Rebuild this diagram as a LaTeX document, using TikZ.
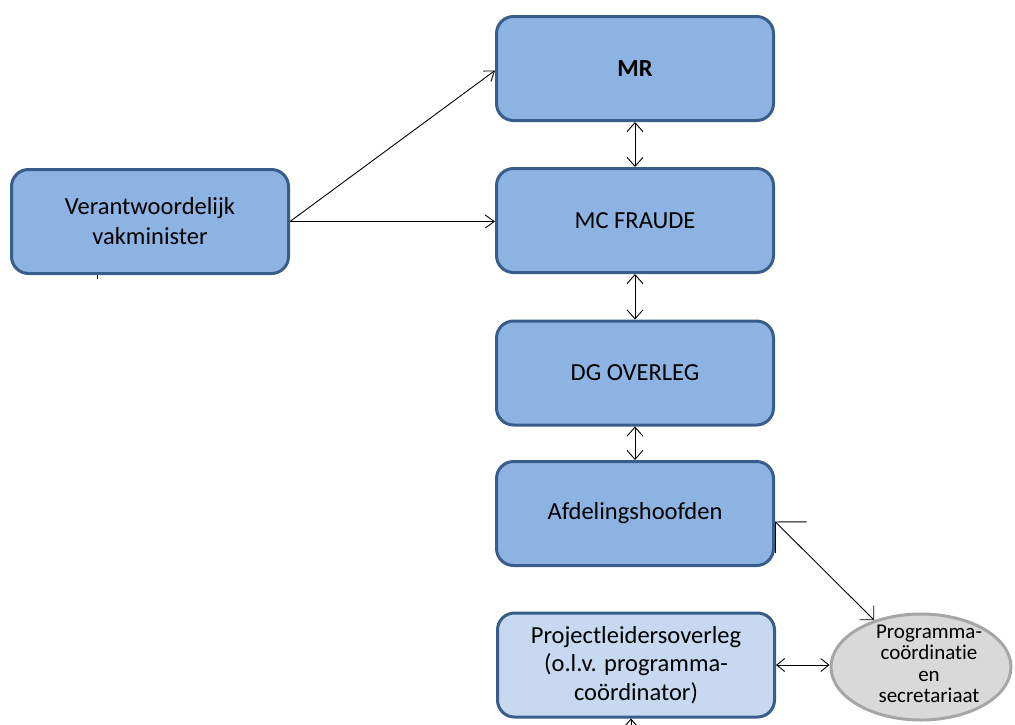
\documentclass[tikz,border=0pt]{standalone}
\usepackage{fontspec}
\setmainfont{Carlito}[Ligatures=NoCommon]
\usetikzlibrary{arrows.meta,shapes.geometric}

\definecolor{boxfill}{RGB}{141,179,226}
\definecolor{boxline}{RGB}{56,93,138}
\definecolor{lightfill}{RGB}{198,217,241}
\definecolor{ovalfill}{RGB}{217,217,217}
\definecolor{ovalline}{RGB}{166,166,166}

\begin{document}
\begin{tikzpicture}[x=1pt,y=-1pt,
  unit/.style={draw=boxline, line width=3pt, fill=boxfill,
    rounded corners=17pt, minimum width=277pt, minimum height=104pt,
    align=center, inner sep=0pt, font=\fontsize{24.5}{30}\selectfont},
  subunit/.style={unit, fill=lightfill, font=\fontsize{24.5}{28.5}\selectfont},
  oval/.style={ellipse, draw=ovalline, line width=3pt, fill=ovalfill,
    minimum width=180pt, minimum height=106pt, inner sep=0pt},
  ovaltext/.style={align=center, inner sep=0pt,
    font=\fontsize{21}{21.5}\selectfont},
  link/.style={draw=black, line width=0.9pt},
  vtip/.tip={Straight Barb[length=9pt,width=16pt,line width=0.9pt]},
  stip/.tip={Straight Barb[length=9pt,width=13pt,line width=0.9pt]},
  htip/.tip={Straight Barb[length=8pt,width=13pt,line width=0.9pt]},
  bigtip/.tip={Straight Barb[length=22pt,width=44pt,line width=0.9pt]},
  smalltip/.tip={Straight Barb[length=10pt,width=20pt,line width=0.9pt]},
]
\useasboundingbox (0,0) rectangle (1015,724);

% organisation chart boxes
\node[unit] (mr)  at (635,68.5)  {\bfseries MR};
\node[unit] (mc)  at (635,220.5) {MC FRAUDE};
\node[unit] (dg)  at (635,373)   {DG OVERLEG};
\node[unit] (afd) at (635,513.5) {Afdelingshoofden};
\node[unit] (vak) at (150,221.5) {Verantwoordelijk\\vakminister};
\node[subunit] (proj) at (636,665) {Projectleidersoverleg\\(o.l.v. programma-\\coördinator)};

% coordination and secretariat
\node[oval] (oval) at (921,667) {};
\node[ovaltext] (ovallabel) at (929,664) {Programma-\\coördinatie\\en\\secretariaat};

% connectors
\draw[link, -stip] (vak.east) -- ([yshift=-2pt]mr.west);
\draw[link, -stip] (vak.east) -- (vak.east -| mc.west);
\draw[link, vtip-vtip] (mr.south) -- (mc.north);
\draw[link, vtip-vtip] (mc.south) -- (dg.north);
\draw[link, vtip-vtip] (dg.south) -- (afd.north);
\draw[link, bigtip-smalltip] ([yshift=-8pt]afd.east) -- (oval.135);
\draw[link, htip-htip] (proj.east) -- (proj.east -| oval.west);

% short connector ends at the lower edges
\coordinate (below) at (631,745);
\draw[link, -vtip] (below) -- (below |- proj.south);
\coordinate (vakmark) at (97,279);
\draw[link] (vakmark) -- (vakmark |- vak.south);
\end{tikzpicture}
\end{document}
